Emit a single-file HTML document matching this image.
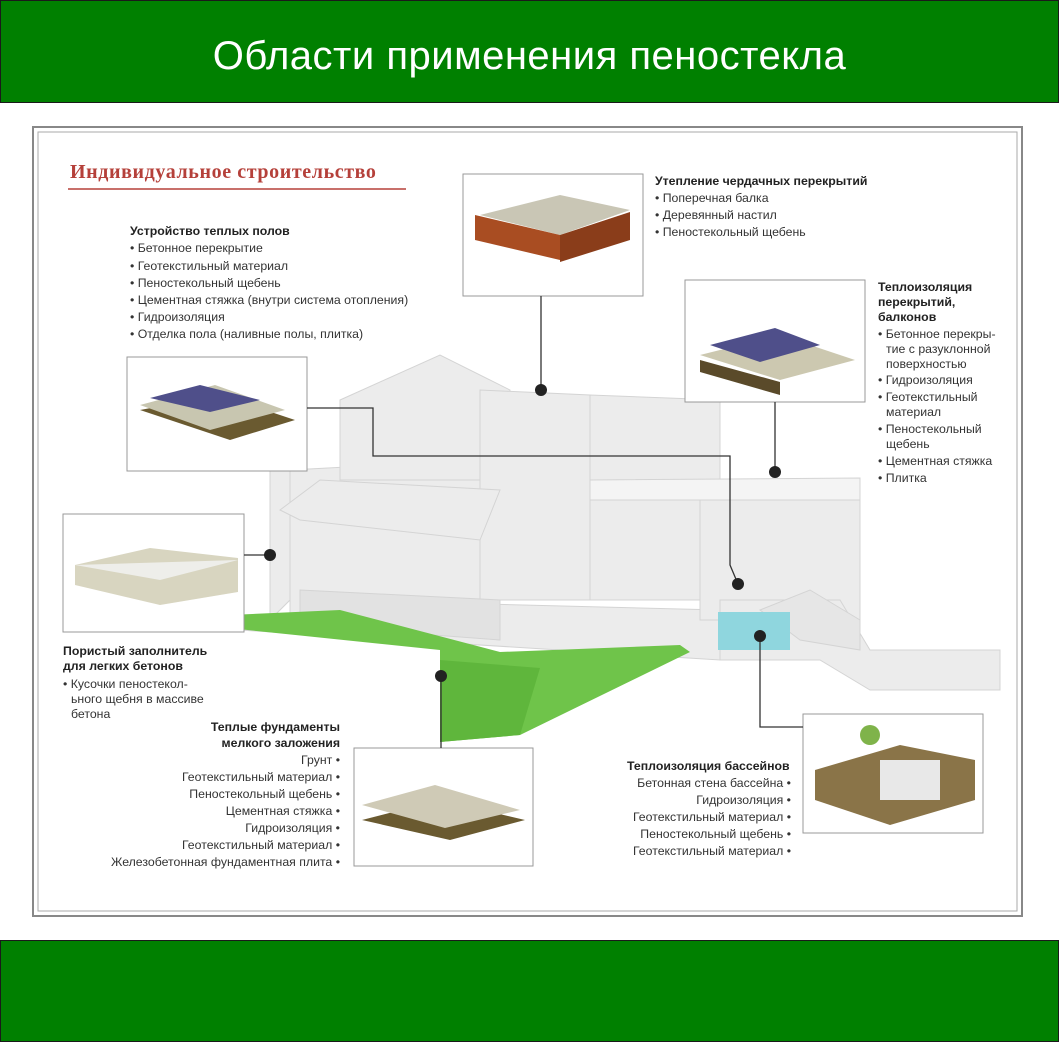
<!DOCTYPE html>
<html><head><meta charset="utf-8"><style>
body{margin:0;width:1059px;height:1042px;position:relative;background:#fff;overflow:hidden;font-family:"Liberation Sans",sans-serif}
.bar{position:absolute;left:0;width:1057px;background:#008000;border:1px solid #1a1a1a}
svg{position:absolute;left:0;top:0}
</style></head><body>
<div class="bar" style="top:0;height:101px"><div style="color:#fff;font-size:40px;text-align:center;line-height:110px;letter-spacing:0.5px">Области применения пеностекла</div></div>
<div class="bar" style="top:940px;height:100px"></div>
<svg width="1059" height="1042" font-family="Liberation Sans, DejaVu Sans, sans-serif">
<rect x="33" y="127" width="989" height="789" fill="none" stroke="#888" stroke-width="2"/>
<rect x="38" y="132" width="979" height="779" fill="none" stroke="#aaa" stroke-width="1"/>
<text x="70" y="178" font-size="20" font-weight="bold" fill="#b5403a" font-family="Liberation Serif, serif" letter-spacing="0.6">Индивидуальное строительство</text>
<line x1="68" y1="189" x2="406" y2="189" stroke="#b5403a" stroke-width="1.5"/>
<!-- house -->
<g fill="#ececec" stroke="#d4d4d4">
<polygon points="240,630 720,660 720,610 330,600 300,620"/>
<polygon points="270,470 290,470 290,600 270,620"/>
<polygon points="290,470 480,460 500,560 500,640 290,620"/>
<polygon points="340,400 440,355 510,390 510,480 340,480"/>
<polygon points="480,390 590,395 590,600 480,600"/>
<polygon points="590,395 720,400 720,600 590,600"/>
<polygon points="280,510 320,480 500,490 480,540 300,520"/>
<polygon points="300,590 500,600 500,640 300,625" fill="#e2e2e2"/>
<polygon points="700,500 860,490 860,620 700,620"/>
<polygon points="590,480 860,478 860,500 590,500" fill="#f4f4f4"/>
<polygon points="720,600 840,600 870,650 1000,650 1000,690 870,690 820,660 720,660"/>
<polygon points="760,610 810,590 860,620 860,650 800,640" fill="#e6e6e6"/>
</g>
<polygon points="718,612 790,612 790,650 718,650" fill="#8fd6de"/>
<polygon points="228,628 440,650 440,742 520,735 690,652 680,645 500,652 340,610 230,615" fill="#6fc44a"/>
<polygon points="440,660 540,668 520,735 440,742" fill="#5fb63c"/>
<!-- image boxes -->
<g fill="#fff" stroke="#999">
<rect x="127" y="357" width="180" height="114"/>
<rect x="463" y="174" width="180" height="122"/>
<rect x="685" y="280" width="180" height="122"/>
<rect x="63" y="514" width="181" height="118"/>
<rect x="354" y="748" width="179" height="118"/>
<rect x="803" y="714" width="180" height="119"/>
</g>
<polygon points="140,410 220,395 295,420 230,440" fill="#6a5a30"/><polygon points="140,405 215,385 285,410 210,430" fill="#c8c6b0"/><polygon points="150,398 200,385 260,400 210,412" fill="#4f4f8a"/>
<polygon points="480,215 560,195 630,210 560,235" fill="#c9c6b5"/><polygon points="475,215 560,235 560,260 475,240" fill="#a94d22"/><polygon points="560,235 630,212 630,240 560,262" fill="#8a3d1a"/>
<polygon points="700,355 780,335 855,360 780,380" fill="#ccc8b0"/><polygon points="710,345 775,328 820,345 760,362" fill="#4f4f8a"/><polygon points="700,360 780,382 780,395 700,372" fill="#5a4a2a"/>
<polygon points="75,565 150,548 238,558 238,592 160,605 75,585" fill="#d8d5c0"/><polygon points="75,565 160,580 238,560" fill="#eeeeea"/>
<polygon points="362,820 440,800 525,820 450,840" fill="#6a5a30"/><polygon points="362,805 435,785 520,810 445,828" fill="#cfcab6"/>
<polygon points="815,770 900,745 975,760 975,800 890,825 815,800" fill="#8a7448"/><rect x="880" y="760" width="60" height="40" fill="#e8e8e8"/><circle cx="870" cy="735" r="10" fill="#7fb34a"/>
<g stroke="#333" stroke-width="1.3" fill="none">
<line x1="541" y1="296" x2="541" y2="390"/>
<polyline points="307,408 373,408 373,456 730,456 730,565 738,584"/>
<line x1="775" y1="402" x2="775" y2="472"/>
<line x1="244" y1="555" x2="270" y2="555"/>
<line x1="441" y1="676" x2="441" y2="748"/>
<polyline points="760,636 760,727 803,727"/>
</g>
<g fill="#222"><circle cx="541" cy="390" r="6"/><circle cx="738" cy="584" r="6"/><circle cx="775" cy="472" r="6"/><circle cx="270" cy="555" r="6"/><circle cx="441" cy="676" r="6"/><circle cx="760" cy="636" r="6"/></g>
<g font-size="12.3" fill="#333">
<text x="130" y="235" font-weight="bold" fill="#222">Устройство теплых полов</text>
<text x="130" y="252">• Бетонное перекрытие</text>
<text x="130" y="270">• Геотекстильный материал</text>
<text x="130" y="287">• Пеностекольный щебень</text>
<text x="130" y="304">• Цементная стяжка (внутри система отопления)</text>
<text x="130" y="321">• Гидроизоляция</text>
<text x="130" y="338">• Отделка пола (наливные полы, плитка)</text>
<text x="655" y="185" font-weight="bold" fill="#222">Утепление чердачных перекрытий</text>
<text x="655" y="202">• Поперечная балка</text>
<text x="655" y="219">• Деревянный настил</text>
<text x="655" y="236">• Пеностекольный щебень</text>
<text x="878" y="291" font-weight="bold" fill="#222">Теплоизоляция</text>
<text x="878" y="306" font-weight="bold" fill="#222">перекрытий,</text>
<text x="878" y="321" font-weight="bold" fill="#222">балконов</text>
<text x="878" y="338">• Бетонное перекры-</text>
<text x="886" y="353">тие с разуклонной</text>
<text x="886" y="368">поверхностью</text>
<text x="878" y="384">• Гидроизоляция</text>
<text x="878" y="401">• Геотекстильный</text>
<text x="886" y="416">материал</text>
<text x="878" y="433">• Пеностекольный</text>
<text x="886" y="448">щебень</text>
<text x="878" y="465">• Цементная стяжка</text>
<text x="878" y="482">• Плитка</text>
<text x="63" y="655" font-weight="bold" fill="#222">Пористый заполнитель</text>
<text x="63" y="670" font-weight="bold" fill="#222">для легких бетонов</text>
<text x="63" y="688">• Кусочки пеностекол-</text>
<text x="71" y="703">ьного щебня в массиве</text>
<text x="71" y="718">бетона</text>
<g text-anchor="end">
<text x="340" y="731" font-weight="bold" fill="#222">Теплые фундаменты</text>
<text x="340" y="747" font-weight="bold" fill="#222">мелкого заложения</text>
<text x="340" y="764">Грунт •</text>
<text x="340" y="781">Геотекстильный материал •</text>
<text x="340" y="798">Пеностекольный щебень •</text>
<text x="340" y="815">Цементная стяжка •</text>
<text x="340" y="832">Гидроизоляция •</text>
<text x="340" y="849">Геотекстильный материал •</text>
<text x="340" y="866">Железобетонная фундаментная плита •</text>
<text x="791" y="787">Бетонная стена бассейна •</text>
<text x="791" y="804">Гидроизоляция •</text>
<text x="791" y="821">Геотекстильный материал •</text>
<text x="791" y="838">Пеностекольный щебень •</text>
<text x="791" y="855">Геотекстильный материал •</text>
</g>
<text x="627" y="770" font-weight="bold" fill="#222">Теплоизоляция бассейнов</text>
</g>
</svg>
</body></html>
